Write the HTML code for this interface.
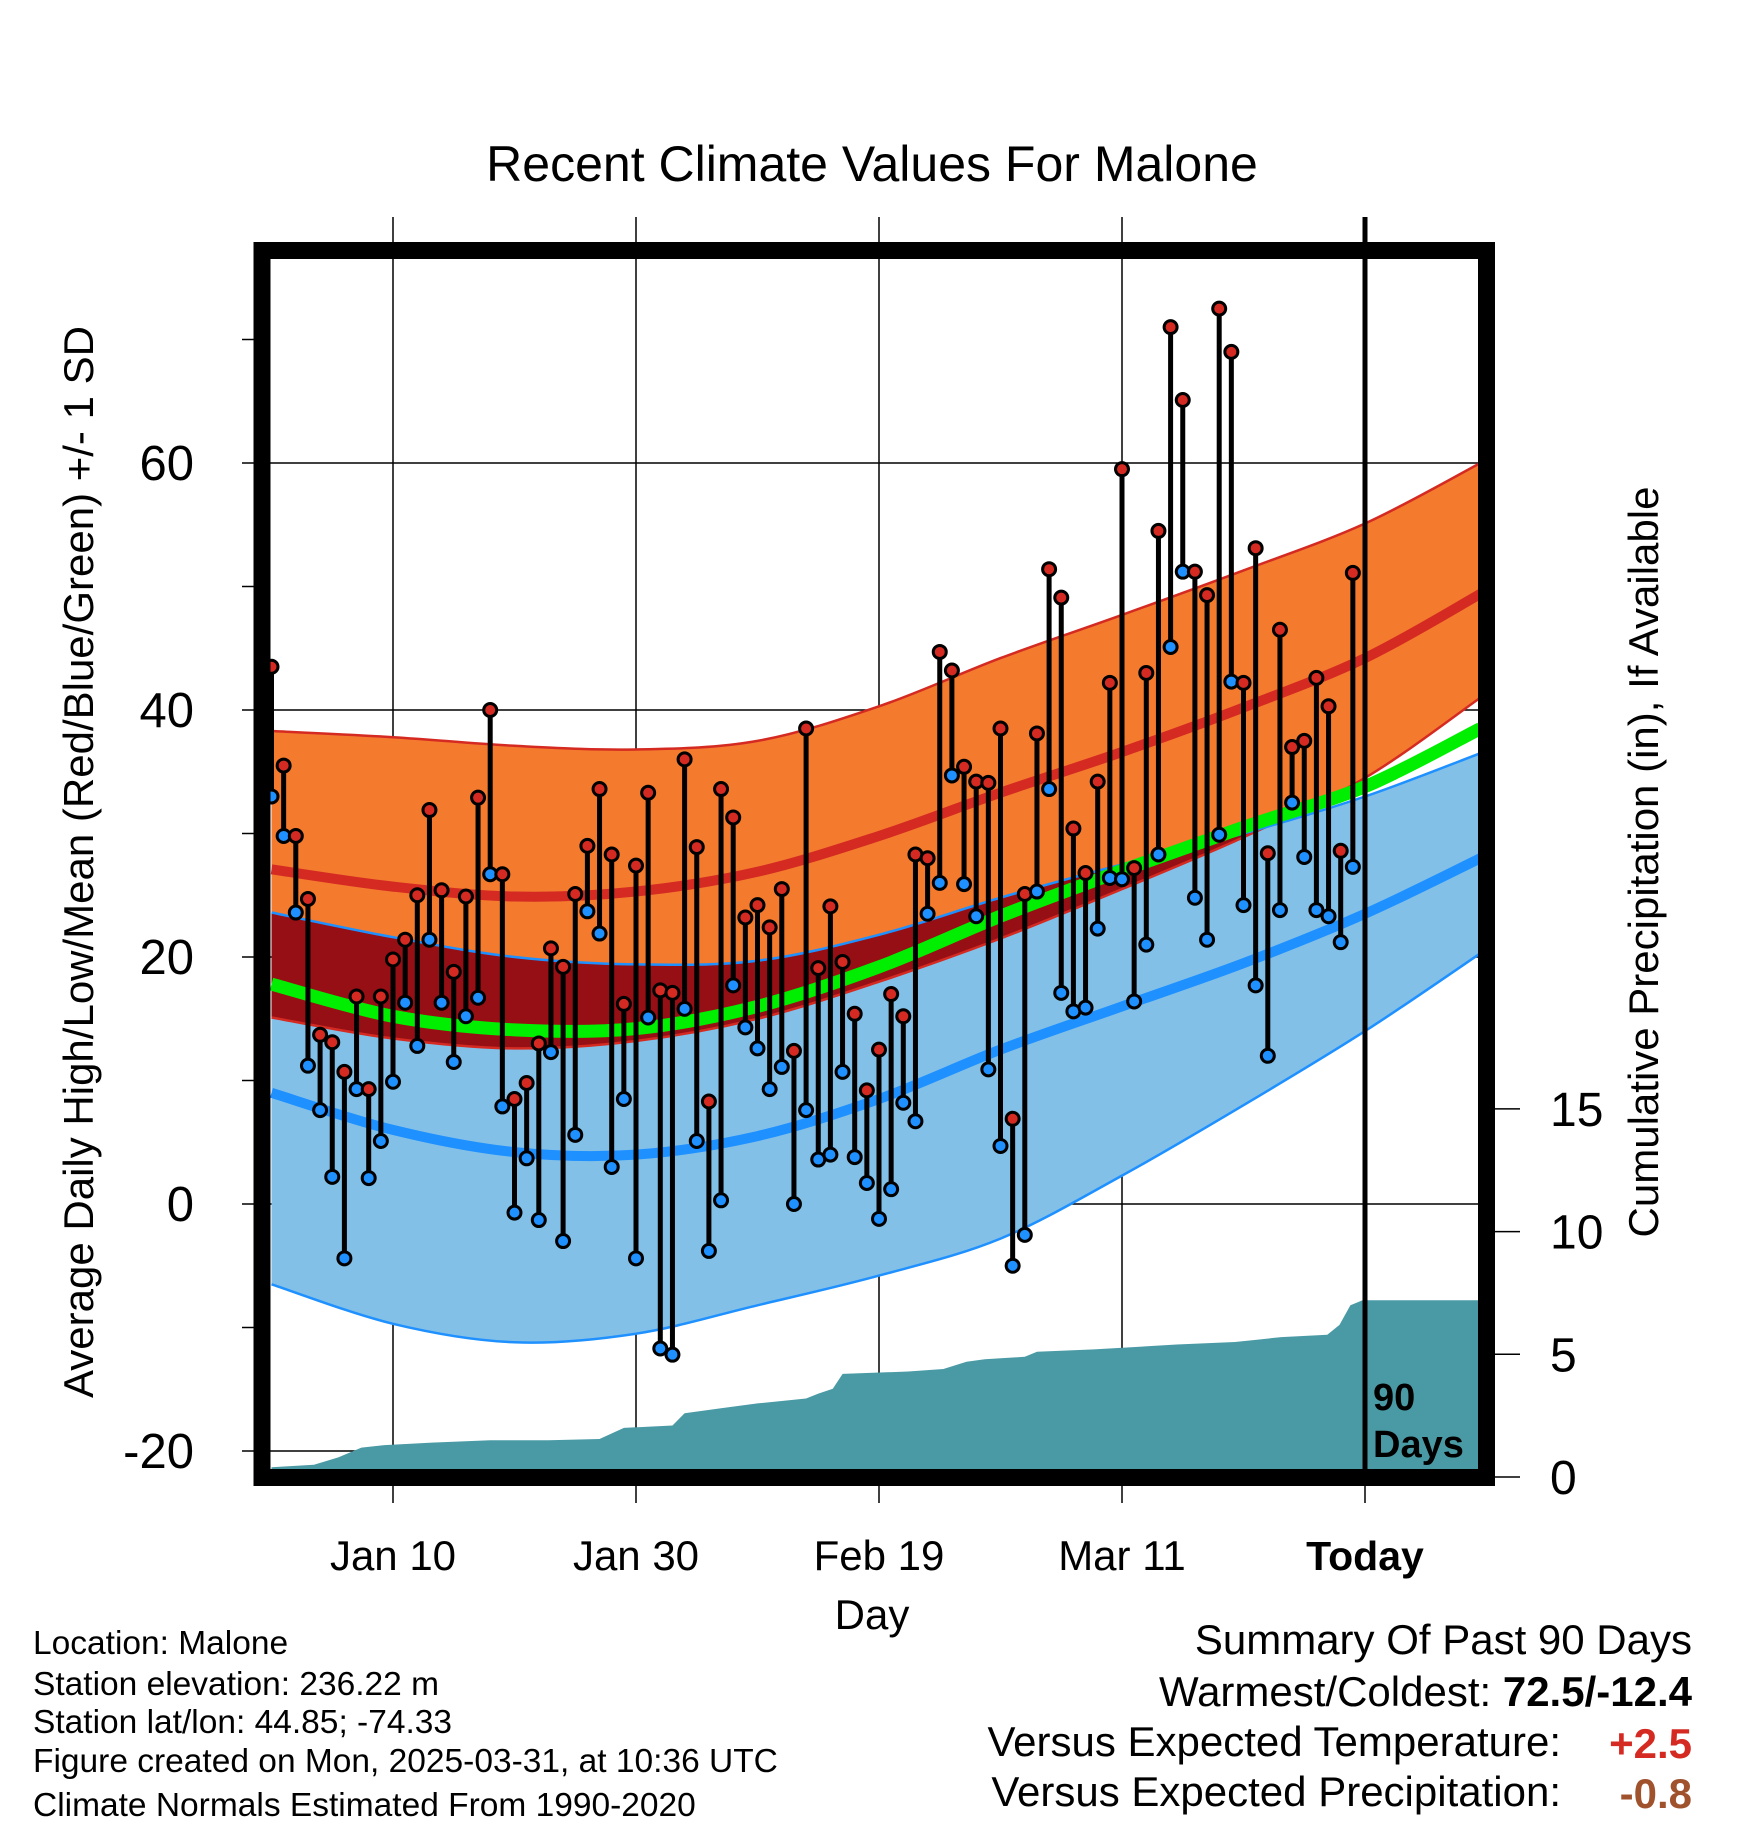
<!DOCTYPE html>
<html><head><meta charset="utf-8"><style>
html,body{margin:0;padding:0;background:#fff;}
svg{display:block;font-family:"Liberation Sans",Arial,sans-serif;}
</style></head><body>
<svg id="chart" width="1748" height="1828" viewBox="0 0 1748 1828" xmlns="http://www.w3.org/2000/svg">
<defs><clipPath id="plotClip"><rect x="270" y="259" width="1208" height="1210"/></clipPath>
<clipPath id="lowClip"><path id="lowClipPath" d=""/></clipPath></defs>
<text x="872" y="181" font-size="50" text-anchor="middle">Recent Climate Values For Malone</text>
<g id="grid"></g>
<g id="plot" clip-path="url(#plotClip)"></g>
<g id="marks"></g>
<rect x="262" y="250.5" width="1224.5" height="1227" fill="none" stroke="#000" stroke-width="17"/>
<g id="axes"></g>
<text transform="translate(93,862) rotate(-90)" font-size="42" text-anchor="middle">Average Daily High/Low/Mean (Red/Blue/Green) +/- 1 SD</text>
<text transform="translate(1658,862) rotate(-90)" font-size="42" text-anchor="middle">Cumulative Precipitation (in), If Available</text>
<text x="872" y="1629" font-size="42" text-anchor="middle">Day</text>
<text x="1373" y="1410" font-size="38" font-weight="bold">90</text>
<text x="1373" y="1457" font-size="38" font-weight="bold">Days</text>
<g font-size="33.5">
<text x="33" y="1654">Location: Malone</text>
<text x="33" y="1695">Station elevation: 236.22 m</text>
<text x="33" y="1733">Station lat/lon: 44.85; -74.33</text>
<text x="33" y="1772">Figure created on Mon, 2025-03-31, at 10:36 UTC</text>
<text x="33" y="1816">Climate Normals Estimated From 1990-2020</text>
</g>
<g font-size="42">
<text x="1692" y="1654" text-anchor="end">Summary Of Past 90 Days</text>
<text x="1692" y="1706" text-anchor="end">Warmest/Coldest: <tspan font-weight="bold">72.5/-12.4</tspan></text>
<text x="1561" y="1756" text-anchor="end">Versus Expected Temperature:</text>
<text x="1692" y="1758" text-anchor="end" font-weight="bold" fill="#d42a22">+2.5</text>
<text x="1561" y="1806" text-anchor="end">Versus Expected Precipitation:</text>
<text x="1692" y="1808" text-anchor="end" font-weight="bold" fill="#a0522d">-0.8</text>
</g>
</svg>
<script>
// ---- data ----
const highs = [43.5,35.5,29.8,24.7,13.7,13.1,10.7,16.8,9.3,16.8,19.8,21.4,25.0,31.9,25.4,18.8,24.9,32.9,40.0,26.7,8.5,9.8,13.0,20.7,19.2,25.1,29.0,33.6,28.3,16.2,27.4,33.3,17.3,17.1,36.0,28.9,8.3,33.6,31.3,23.2,24.2,22.4,25.5,12.4,38.5,19.1,24.1,19.6,15.4,9.2,12.5,17.0,15.2,28.3,28.0,44.7,43.2,35.4,34.2,34.1,38.5,6.9,25.1,38.1,51.4,49.1,30.4,26.8,34.2,42.2,59.5,27.2,43.0,54.5,71.0,65.1,51.2,49.3,72.5,69.0,42.2,53.1,28.4,46.5,37.0,37.5,42.6,40.3,28.6,51.1];
const lows = [33.0,29.8,23.6,11.2,7.6,2.2,-4.4,9.3,2.1,5.1,9.9,16.3,12.8,21.4,16.3,11.5,15.2,16.7,26.7,7.9,-0.7,3.7,-1.3,12.3,-3.0,5.6,23.7,21.9,3.0,8.5,-4.4,15.1,-11.7,-12.2,15.8,5.1,-3.8,0.3,17.7,14.3,12.6,9.3,11.1,0.0,7.6,3.6,4.0,10.7,3.8,1.7,-1.2,1.2,8.2,6.7,23.5,26.0,34.7,25.9,23.3,10.9,4.7,-5.0,-2.5,25.3,33.6,17.1,15.6,15.9,22.3,26.4,26.3,16.4,21.0,28.3,45.1,51.2,24.8,21.4,29.9,42.3,24.2,17.7,12.0,23.8,32.5,28.1,23.8,23.3,21.2,27.3];
const normDays = [0,10,20,30,40,50,60,70,80,90,99.5];
const highPlusSD = [38.3,37.8,37.1,36.8,37.5,40.3,44.2,47.7,51.3,55.1,60.0];
const highMean = [27.1,25.7,24.9,25.3,26.9,29.8,33.3,36.6,40.2,44.2,49.4];
const highMinusSD = [15.1,13.4,12.6,13.2,15.0,18.0,21.5,25.5,29.7,34.5,41.0];
const lowPlusSD = [23.6,21.6,20.0,19.4,19.7,21.8,24.8,27.5,30.0,33.0,36.5];
const lowMean = [9.0,6.0,4.2,4.0,5.5,8.5,12.5,16.0,19.5,23.5,28.0];
const lowMinusSD = [-6.5,-9.7,-11.2,-10.5,-8.2,-5.8,-2.8,2.3,8.0,14.0,20.3];
const avgMean = [17.8,15.2,14.1,14.2,16.0,19.2,23.3,27.0,30.5,33.8,38.5];
const precipDays = [0,3.5,5.5,7.4,9.3,13.2,18,22.8,27,29,33,34,37,40,44,45,46.2,47,52.4,55.3,57.2,58.7,62,63,67.7,74.5,79.3,81.2,83.1,86.9,87.9,88.8,89.8,99.5];
const precipVals = [0.4,0.5,0.8,1.2,1.3,1.4,1.5,1.5,1.55,2.0,2.1,2.6,2.8,3.0,3.2,3.4,3.6,4.2,4.3,4.4,4.7,4.8,4.9,5.1,5.2,5.4,5.5,5.6,5.7,5.8,6.2,7.0,7.2,7.2];
const tempTicks = [-20,0,20,40,60];
const tempMinor = [-10,10,30,50,70];
const precipTicks = [0,5,10,15];
const dateLabels = ["Jan 10","Jan 30","Feb 19","Mar 11","Today"];
const dateDays = [10,30,50,70,90];

// ---- scales ----
const X = d => 271.5 + 12.15*d;
const Y = t => 1204 - 12.35*t;
const P = p => 1477 - 24.54*p;
const NS = "http://www.w3.org/2000/svg";
function mk(tag, parent, attrs){const e=document.createElementNS(NS,tag);for(const k in attrs)e.setAttribute(k,attrs[k]);parent.appendChild(e);return e;}
function pts(days, vals){return days.map((d,i)=>[X(d),Y(vals[i])]);}
function smooth(p, start){ // catmull-rom to bezier
  let s=(start?'M':'L')+p[0][0].toFixed(1)+','+p[0][1].toFixed(1);
  for(let i=0;i<p.length-1;i++){
    const p0=p[Math.max(0,i-1)],p1=p[i],p2=p[i+1],p3=p[Math.min(p.length-1,i+2)];
    const c1=[p1[0]+(p2[0]-p0[0])/6,p1[1]+(p2[1]-p0[1])/6];
    const c2=[p2[0]-(p3[0]-p1[0])/6,p2[1]-(p3[1]-p1[1])/6];
    s+='C'+c1[0].toFixed(1)+','+c1[1].toFixed(1)+' '+c2[0].toFixed(1)+','+c2[1].toFixed(1)+' '+p2[0].toFixed(1)+','+p2[1].toFixed(1);
  }
  return s;
}
function linePath(days, vals){return smooth(pts(days,vals),true);}
function bandPath(days, top, bot){return smooth(pts(days,top),true)+smooth(pts(days,bot).reverse(),false)+'Z';}

const grid=document.getElementById('grid'), plot=document.getElementById('plot'), marks=document.getElementById('marks'), axes=document.getElementById('axes');

tempTicks.forEach(t=>{
  const l=mk('line',grid,{x1:242,x2:1478,y1:Y(t),y2:Y(t),stroke:'#000','stroke-width':1.5});
  
  
  const tx=mk('text',axes,{x:194,y:Y(t)+17,'font-size':49,'text-anchor':'end'});
  tx.textContent=t;
  
  
});
tempMinor.forEach(t=>{
  const l=mk('line',axes,{x1:242,x2:256,y1:Y(t),y2:Y(t),stroke:'#000','stroke-width':1.5});
  
  
});
dateDays.forEach((d,i)=>{
  const l=mk('line',grid,{x1:X(d),x2:X(d),y1:217,y2:1503,stroke:'#000','stroke-width':1.5});
  
  
  const tx=mk('text',axes,{x:X(d),y:1570,'font-size':42,'text-anchor':'middle'});
  if(i===4){tx.setAttribute('font-weight','bold');tx.setAttribute('font-size','41');}
  tx.textContent=dateLabels[i];
  
  
});
precipTicks.forEach(p=>{
  const l=mk('line',axes,{x1:1495,x2:1520,y1:P(p),y2:P(p),stroke:'#000','stroke-width':1.5});
  
  
  const tx=mk('text',axes,{x:1550,y:P(p)+17,'font-size':48});
  tx.textContent=p;
  
  
});

const hb=mk('path',plot,{d:bandPath(normDays,highPlusSD,highMinusSD),fill:'#f47a2e'});


const lb=mk('path',plot,{d:bandPath(normDays,lowPlusSD,lowMinusSD),fill:'#82c0e8'});


document.getElementById('lowClipPath').setAttribute('d',bandPath(normDays,lowPlusSD,lowMinusSD));
const ov=mk('path',plot,{d:bandPath(normDays,highPlusSD,highMinusSD),fill:'#960f14','clip-path':'url(#lowClip)'});


[[highPlusSD,'#d42a22',2.5,'high-plus-sd-line'],[highMinusSD,'#d42a22',2.5,'high-minus-sd-line'],[lowPlusSD,'#1e90ff',2.5,'low-plus-sd-line'],[lowMinusSD,'#1e90ff',2.5,'low-minus-sd-line'],[highMean,'#d42a22',10,'mean-high-line'],[lowMean,'#1e90ff',10,'mean-low-line'],[avgMean,'#00ee00',13,'mean-avg-line']].forEach(a=>{
  const p=mk('path',plot,{d:linePath(normDays,a[0]),fill:'none',stroke:a[1],'stroke-width':a[2]});
  
  
});
let pd='M'+X(precipDays[0])+','+P(0);
precipDays.forEach((d,i)=>{pd+='L'+X(d).toFixed(1)+','+P(precipVals[i]).toFixed(1);});
pd+='L'+X(precipDays[precipDays.length-1])+','+P(0)+'Z';
const pa=mk('path',plot,{d:pd,fill:'#4a9aa5'});



const tl=mk('line',marks,{x1:X(90),x2:X(90),y1:217,y2:1470,stroke:'#000','stroke-width':5});



highs.forEach((h,i)=>{
  const x=X(i), lo=lows[i];
  const s=mk('line',marks,{x1:x,x2:x,y1:Y(h),y2:Y(lo),stroke:'#000','stroke-width':5});
  
  
  const c1=mk('circle',marks,{cx:x,cy:Y(lo),r:6.5,fill:'#1e90ff',stroke:'#000','stroke-width':3});
  
  
  const c2=mk('circle',marks,{cx:x,cy:Y(h),r:6.5,fill:'#d42a22',stroke:'#000','stroke-width':3});
  
  
});
</script>
</body></html>
